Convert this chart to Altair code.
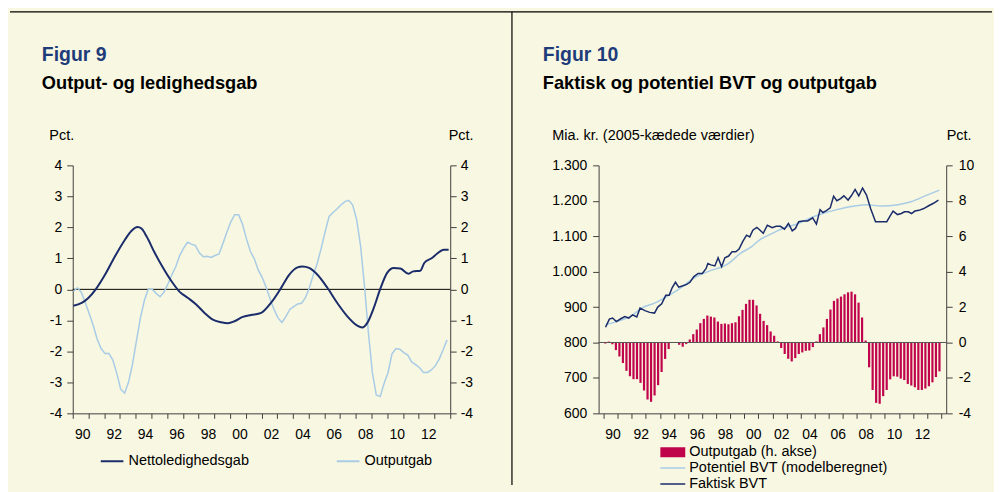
import altair as alt
import pandas as pd

FONT = "Liberation Sans"
BG = "#F8F7E1"
NAVY = "#1B2C6B"
LIGHT = "#A8CCE6"
RED = "#C0044C"
TBLUE = "#1F3C7A"
AX = "#404040"

# ---------------- data ----------------
years = list(range(1990, 2014))
quarters = [1, 2, 3, 4]

# Outputgab, quarterly 1990Q1 - 2013Q4 (pct.)
outputgab = [
    -0.06, 0.05, -0.10, -0.43,
    -0.79, -1.16, -1.60, -1.91,
    -2.07, -2.07, -2.28, -2.71,
    -3.22, -3.35, -2.99, -2.41,
    -1.66, -0.93, -0.37, 0.00,
    0.00, -0.13, -0.24, -0.09,
    0.17, 0.47, 0.73, 1.09,
    1.33, 1.52, 1.46, 1.41,
    1.18, 1.05, 1.07, 1.03,
    1.09, 1.14, 1.48, 1.84,
    2.18, 2.41, 2.41, 2.09,
    1.62, 1.22, 0.98, 0.62,
    0.38, 0.06, -0.31, -0.65,
    -0.92, -1.07, -0.88, -0.65,
    -0.56, -0.47, -0.45, -0.26,
    0.06, 0.47, 0.85, 1.33,
    1.86, 2.35, 2.48, 2.59,
    2.72, 2.83, 2.87, 2.72,
    2.25, 1.41, 0.11, -1.40,
    -2.68, -3.41, -3.46, -3.03,
    -2.68, -2.08, -1.91, -1.93,
    -2.04, -2.12, -2.34, -2.43,
    -2.53, -2.68, -2.68, -2.60,
    -2.47, -2.25, -1.95, -1.63,
]

# Nettoledighedsgab (pct.)
ledig_t = [1990.04, 1990.57, 1990.99, 1991.46, 1992.05, 1992.68, 1993.32, 1993.74,
           1994.12, 1994.37, 1994.69, 1995.22, 1995.75, 1996.27, 1996.80, 1997.33,
           1997.85, 1998.38, 1998.91, 1999.44, 1999.86, 2000.28, 2000.81, 2001.34,
           2001.98, 2002.60, 2003.24, 2003.76, 2004.29, 2004.61, 2005.03, 2005.56,
           2006.19, 2006.82, 2007.46, 2008.09, 2008.41, 2008.72, 2009.14, 2009.57,
           2009.99, 2010.41, 2010.83, 2011.36, 2011.64, 2012.10, 2012.35, 2012.84,
           2013.16, 2013.58, 2013.90]
ledig_v = [-0.53, -0.44, -0.28, 0.00, 0.47, 1.06, 1.60, 1.89,
           2.01, 1.96, 1.71, 1.17, 0.69, 0.27, -0.08, -0.28,
           -0.49, -0.76, -0.98, -1.06, -1.09, -1.03, -0.89, -0.83,
           -0.76, -0.44, 0.04, 0.47, 0.71, 0.74, 0.69, 0.47,
           0.05, -0.44, -0.87, -1.17, -1.23, -1.09, -0.60, 0.04,
           0.53, 0.69, 0.67, 0.50, 0.58, 0.60, 0.85, 1.01,
           1.15, 1.28, 1.28]

# Faktisk BVT (mia. kr.)
faktisk_t = [1990.14, 1990.41, 1990.64, 1990.91, 1991.22, 1991.51, 1991.79, 1992.06,
             1992.36, 1992.59, 1992.94, 1993.28, 1993.62, 1993.85, 1994.13, 1994.42,
             1994.66, 1994.88, 1995.11, 1995.34, 1995.64, 1995.91, 1996.14, 1996.42,
             1996.72, 1997.02, 1997.29, 1997.41, 1997.63, 1997.91, 1998.14, 1998.39,
             1998.62, 1998.89, 1999.13, 1999.40, 1999.63, 1999.88, 2000.16, 2000.39,
             2000.61, 2000.89, 2001.07, 2001.35, 2001.64, 2001.99, 2002.26, 2002.57,
             2002.86, 2003.14, 2003.41, 2003.64, 2003.87, 2004.17, 2004.51, 2004.86,
             2005.13, 2005.39, 2005.59, 2005.84, 2006.11, 2006.35, 2006.58, 2006.85,
             2007.08, 2007.38, 2007.61, 2007.88, 2008.14, 2008.41, 2008.69, 2008.98,
             2009.33, 2009.67, 2010.13, 2010.36, 2010.58, 2010.89, 2011.16, 2011.39,
             2011.66, 2011.89, 2012.13, 2012.42, 2012.76, 2013.11, 2013.45, 2013.80]
faktisk_v = [843, 866, 869, 859, 867, 873, 869, 878,
             872, 897, 890, 885, 883, 900, 909, 933,
             933, 955, 970, 956, 960, 964, 970, 986,
             995, 995, 1009, 1023, 1019, 1016, 1039, 1014,
             1039, 1044, 1056, 1056, 1064, 1084, 1103, 1098,
             1117, 1125, 1119, 1108, 1131, 1124, 1128, 1128,
             1120, 1136, 1115, 1122, 1141, 1143, 1143, 1152,
             1134, 1175, 1167, 1172, 1180, 1213, 1200, 1206,
             1214, 1202, 1214, 1232, 1214, 1236, 1216, 1178,
             1141, 1141, 1141, 1157, 1171, 1161, 1164, 1169,
             1169, 1164, 1171, 1173, 1178, 1186, 1193, 1202]

# Potentiel BVT (mia. kr.)
potentiel_t = [1990.14, 1991.10, 1992.02, 1992.70, 1993.62, 1995.11, 1996.60, 1997.41,
               1998.89, 1999.70, 2000.50, 2001.07, 2002.10, 2002.45, 2003.82, 2005.20,
               2006.57, 2007.95, 2008.64, 2009.79, 2010.93, 2011.85, 2012.99, 2013.87]
potentiel_v = [850, 861, 876, 897, 911, 944, 986, 1000,
               1023, 1051, 1070, 1089, 1110, 1117, 1136, 1159,
               1175, 1186, 1189, 1185, 1189, 1197, 1216, 1230]

series_left = ["Nettoledighedsgab", "Outputgab"]
series_right = ["Potentiel BVT (modelberegnet)", "Faktisk BVT"]
bar_label = "Outputgab (h. akse)"

# ---------------- tables ----------------
q_year = [y for y in years for _ in quarters]
q_num = quarters * len(years)
df_out = pd.DataFrame({"t": [y + (q - 1) / 4 + 0.05 for y, q in zip(q_year, q_num)],
                       "v": outputgab, "serie": series_left[1]})
df_led = pd.DataFrame({"t": ledig_t, "v": ledig_v, "serie": series_left[0]})
df_bar = pd.DataFrame({"t": [y + (q - 0.5) / 4 for y, q in zip(q_year, q_num)],
                       "gap": outputgab, "lbl": bar_label})
df_fak = pd.DataFrame({"t": faktisk_t, "m": faktisk_v, "serie": series_right[1]})
df_pot = pd.DataFrame({"t": potentiel_t, "m": potentiel_v, "serie": series_right[0]})
one = pd.DataFrame({"a": [0]})

W1, W2, H = 379, 349, 249
x_vals = list(range(1990, 2015))
lab_expr = "datum.value % 2 == 0 && datum.value < 2014 ? substring(toString(datum.value), 2, 4) : ''"


def x_enc(offset):
    return alt.X("t:Q", scale=alt.Scale(domain=[1990, 2014], nice=False, zero=False),
                 axis=alt.Axis(values=x_vals, labelExpr=lab_expr, labelOffset=offset,
                               labelFlush=False, labelOverlap=False, tickSize=5,
                               labelPadding=9, title=None, grid=False,
                               domainColor=AX, tickColor=AX, labelFontSize=14,
                               labelColor="#000"))


def y_axis(orient, values, title, tx, expr="toString(datum.value)", pad=5):
    return alt.Axis(orient=orient, values=values, labelExpr=expr, tickSize=6,
                    labelPadding=pad, grid=False, domainColor=AX, tickColor=AX,
                    labelFontSize=14, labelColor="#000", title=title, titleAngle=0,
                    titleX=tx, titleY=-26, titleAlign="left",
                    titleBaseline="alphabetic", titleFontWeight="normal",
                    titleFontSize=14.5, titleColor="#000")


def txt(s, x, y, size, bold, color="#000"):
    return alt.Chart(one).mark_text(
        text=s, align="left", baseline="alphabetic", font=FONT, fontSize=size,
        fontWeight="bold" if bold else "normal", color=color
    ).encode(x=alt.value(x), y=alt.value(y))


# ---------------- left panel ----------------
pct_scale = alt.Scale(domain=[-4, 4], nice=False, zero=False)
Y_left = alt.Y("v:Q", scale=pct_scale, axis=y_axis("left", list(range(-4, 5)), "Pct.", -24))
color_left = alt.Color(
    "serie:N", scale=alt.Scale(domain=series_left, range=[NAVY, LIGHT]),
    legend=alt.Legend(orient="none", legendX=27, legendY=287, direction="horizontal",
                      title=None, symbolType="stroke", symbolSize=515,
                      symbolStrokeWidth=2, labelFontSize=14.5, labelColor="#000",
                      columnPadding=87, labelOffset=4, clipHeight=20, labelLimit=300))

zero_left = alt.Chart(pd.DataFrame({"v": [0]})).mark_rule(color="#000", strokeWidth=1).encode(
    y=alt.Y("v:Q", scale=pct_scale, axis=y_axis("right", list(range(-4, 5)), "Pct.", -2, pad=4)))
line_led = alt.Chart(df_led).mark_line(strokeWidth=2, interpolate="monotone").encode(
    x=x_enc(9.5), y=Y_left, color=color_left)
line_out = alt.Chart(df_out).mark_line(strokeWidth=1.5).encode(
    x=x_enc(9.5), y=Y_left, color=color_left)

top_rule = alt.Chart(one).mark_rule(color="#000", strokeWidth=1.2).encode(
    x=alt.value(-63), x2=alt.value(923), y=alt.value(-154))
v_rule = alt.Chart(one).mark_rule(color="#000", strokeWidth=1.2).encode(
    x=alt.value(441), y=alt.value(-154), y2=alt.value(321))

left = alt.layer(
    zero_left,
    alt.layer(line_out, line_led),
    top_rule, v_rule,
    txt("Figur 9", -31, -105, 19.5, True, TBLUE),
    txt("Output- og ledighedsgab", -31, -77, 18.3, True),
).resolve_scale(y="independent").properties(width=W1, height=H)

# ---------------- right panel ----------------
gap_scale = alt.Scale(domain=[-4, 10], nice=False, zero=False)
gap_axis = y_axis("right", list(range(-4, 11, 2)), "Pct.", 0, pad=6)
bars = alt.Chart(df_bar).mark_bar(size=2.2).encode(
    x=x_enc(9), y=alt.Y("gap:Q", scale=gap_scale, axis=gap_axis),
    color=alt.Color("lbl:N", scale=alt.Scale(domain=[bar_label], range=[RED]),
                    legend=alt.Legend(orient="none", legendX=61, legendY=280, title=None,
                                      symbolType="M-1,-0.4H1V0.4H-1Z", symbolSize=625,
                                      clipHeight=16, labelOffset=3, labelFontSize=14.5,
                                      labelColor="#000", labelLimit=300)))
zero_right = alt.Chart(pd.DataFrame({"gap": [0]})).mark_rule(color="#555", strokeWidth=1).encode(
    y=alt.Y("gap:Q", scale=gap_scale, axis=gap_axis))

mia_scale = alt.Scale(domain=[600, 1300], nice=False, zero=False)
Y_mia = alt.Y("m:Q", scale=mia_scale,
              axis=y_axis("left", list(range(600, 1301, 100)), "Mia. kr. (2005-kædede værdier)",
                          -47, expr="replace(format(datum.value, ','), ',', '.')", pad=6))
color_right = alt.Color(
    "serie:N", scale=alt.Scale(domain=series_right, range=[LIGHT, NAVY]),
    legend=alt.Legend(orient="none", legendX=61, legendY=296, title=None,
                      symbolType="stroke", symbolSize=625, symbolStrokeWidth=1.5,
                      clipHeight=16, rowPadding=0, labelOffset=3, labelFontSize=14.5,
                      labelColor="#000", labelLimit=300))
line_pot = alt.Chart(df_pot).mark_line(strokeWidth=1.5, interpolate="monotone").encode(
    x=x_enc(9), y=Y_mia, color=color_right)
line_fak = alt.Chart(df_fak).mark_line(strokeWidth=1.5).encode(
    x=x_enc(9), y=Y_mia, color=color_right)

right = alt.layer(
    alt.layer(bars, zero_right),
    alt.layer(line_pot, line_fak),
    txt("Figur 10", -56, -105, 19.5, True, TBLUE),
    txt("Faktisk og potentiel BVT og outputgab", -56, -77, 18.3, True),
).resolve_scale(y="independent", color="independent").properties(width=W2, height=H)

chart = alt.hconcat(left, right, spacing=149, bounds="flush").resolve_scale(
    color="independent"
).properties(
    background=BG, padding={"left": 0, "top": 1, "right": 0, "bottom": 0}
).configure(font=FONT).configure_view(stroke="transparent")

chart.save("out.html", embed_options={"renderer": "svg", "actions": False})
